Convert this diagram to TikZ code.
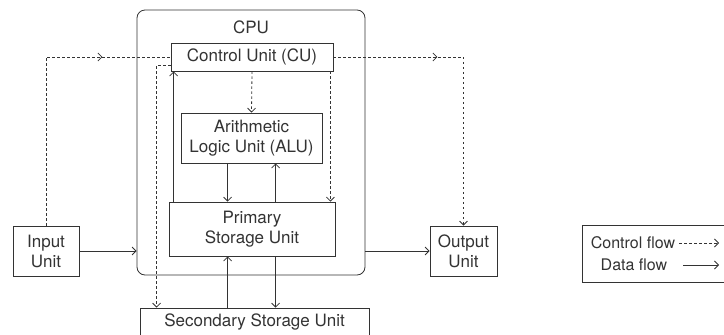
\documentclass[tikz,border=0pt]{standalone}
\usepackage{fontspec}
\setmainfont{TeX Gyre Heros}
\usetikzlibrary{arrows.meta,decorations.markings}
\definecolor{ink}{HTML}{333333}
\begin{document}
\begin{tikzpicture}[x=1pt,y=-1pt,
  every node/.style={font=\fontsize{17}{20}\selectfont, text=ink, inner sep=0pt, align=center},
  box/.style={draw=ink, line width=0.8pt},
  tip/.tip={Straight Barb[length=4pt,width=8pt,line width=0.8pt]},
  data/.style={draw=ink, line width=0.8pt, -tip},
  ctrl/.style={draw=ink, line width=0.8pt, dash pattern=on 2.5pt off 2.5pt},
  ctrlarrow/.style={ctrl, -tip},
  midarrow/.style={postaction={decorate, decoration={markings,
      mark=at position #1 with {\arrow{tip}}}}}
]
\useasboundingbox (0,0) rectangle (724,335);

% CPU container
\node[box, rounded corners=8pt, minimum width=228pt, minimum height=265pt] (cpu) at (251,142.5) {};
\node (cpulabel) at (251,27) {CPU};

% units
\node[box, minimum width=162pt, minimum height=28pt] (cu) at (252,57) {Control Unit (CU)};
\node[box, minimum width=141pt, minimum height=50pt] (alu) at (251.5,138) {Arithmetic\\Logic Unit (ALU)};
\node[box, minimum width=166pt, minimum height=54pt] (psu) at (252,229) {Primary\\Storage Unit};
\node[box, minimum width=66pt, minimum height=50pt] (in) at (46,251) {Input\\Unit};
\node[box, minimum width=67pt, minimum height=50pt] (out) at (463.5,251) {Output\\Unit};
\node[box, minimum width=229pt, minimum height=28pt] (ssu) at (254.5,322) {Secondary Storage Unit};

% data flow
\draw[data] (in.east) -- (in.east -| cpu.west);
\draw[data] (cpu.east |- out.west) -- (out.west);
\draw[data] ([xshift=5pt]psu.north west) -- ([xshift=5pt]psu.north west |- cu.south);
\draw[data] ([xshift=47pt]alu.south west) -- ([xshift=47pt]alu.south west |- psu.north);
\draw[data] ([xshift=107pt]psu.north west) -- ([xshift=107pt]psu.north west |- alu.south);
\draw[data] ([xshift=59pt]psu.south west |- ssu.north) -- ([xshift=59pt]psu.south west);
\draw[data] ([xshift=107pt]psu.south west) -- ([xshift=107pt]psu.south west |- ssu.north);

% control flow
\draw[ctrl, midarrow=225pt] (in.north) |- (cu.west);
\draw[ctrlarrow, midarrow=104pt] (cu.east) -| (out.north);
\draw[ctrlarrow] (cu.south) -- (alu.north);
\draw[ctrlarrow] ([yshift=6pt]cu.south west) -| ([xshift=17pt]ssu.north west);
\draw[ctrlarrow] ([xshift=-3pt]cu.south east) -- ([xshift=-3pt]cu.south east |- psu.north);

% legend
\node[box, minimum width=160pt, minimum height=57pt, anchor=north west] (legend) at (582,225) {};
\node[font=\fontsize{16}{19}\selectfont] (lc) at (633,243) {Control flow};
\node[font=\fontsize{16}{19}\selectfont] (ld) at (634,265) {Data flow};
\coordinate (lcs) at (679,243);
\coordinate (lce) at (719,243);
\coordinate (lds) at (683,265);
\coordinate (lde) at (719,265);
\draw[ctrlarrow] (lcs) -- (lce);
\draw[data] (lds) -- (lde);
\end{tikzpicture}
\end{document}
